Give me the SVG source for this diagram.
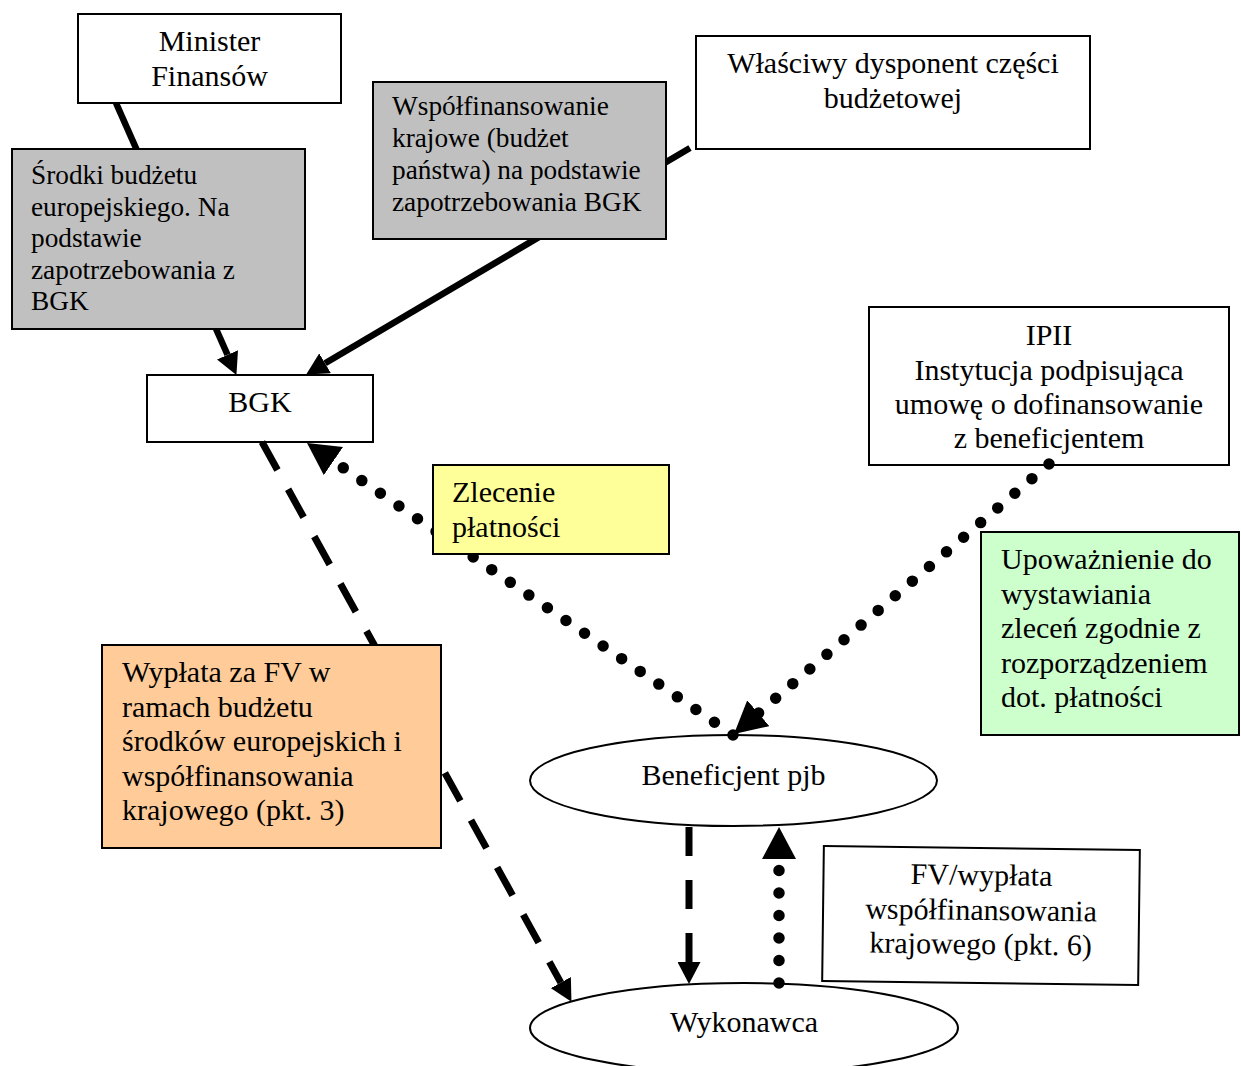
<svg xmlns="http://www.w3.org/2000/svg" width="1241" height="1066" viewBox="0 0 1241 1066">
<style>
.box{fill:#fff;stroke:#000;stroke-width:2}
.gray{fill:#c0c0c0}
.yel{fill:#ffff99}
.grn{fill:#ccffcc}
.org{fill:#ffcc99}
.t{font-family:"Liberation Serif","Times New Roman",serif;font-size:30px;fill:#000}
.s{font-size:27.3px}
.mid{text-anchor:middle}
.ln{stroke:#000;fill:none}
.solid{stroke-width:6.5}
.dash{stroke-width:7;stroke-dasharray:32 22}
.dot{stroke-width:11.5;stroke-dasharray:0 22.5;stroke-linecap:round}
</style>
<defs>
<marker id="aS" markerUnits="userSpaceOnUse" markerWidth="22" markerHeight="23" viewBox="0 0 22 23" refX="0" refY="11.5" orient="auto"><path d="M0,0 L22,11.5 L0,23 z" fill="#000"/></marker>
<marker id="aD" markerUnits="userSpaceOnUse" markerWidth="32" markerHeight="34" viewBox="0 0 32 34" refX="0" refY="17" orient="auto"><path d="M0,0 L32,17 L0,34 z" fill="#000"/></marker>
</defs>
<rect width="1241" height="1066" fill="#fff"/>

<g id="minister">
<rect class="box" x="78" y="14" width="263" height="89"/>
<text class="t mid" x="209.5" y="51">Minister</text>
<text class="t mid" x="209.5" y="86">Finansów</text>
</g>
<g id="dysponent">
<rect class="box" x="696" y="36" width="394" height="113"/>
<text class="t mid" x="893" y="73">Właściwy dysponent części</text>
<text class="t mid" x="893" y="108">budżetowej</text>
</g>
<g id="bgk">
<rect class="box" x="147" y="375" width="226" height="67"/>
<text class="t mid" x="260" y="412">BGK</text>
</g>
<g id="ipii">
<rect class="box" x="869" y="307" width="360" height="158"/>
<text class="t mid" x="1049" y="345">IPII</text>
<text class="t mid" x="1049" y="380">Instytucja podpisująca</text>
<text class="t mid" x="1049" y="414">umowę o dofinansowanie</text>
<text class="t mid" x="1049" y="448">z beneficjentem</text>
</g>
<g id="beneficjent">
<ellipse class="box" cx="733.5" cy="780.5" rx="203.5" ry="45.5"/>
<text class="t mid" x="733.5" y="785">Beneficjent pjb</text>
</g>
<g id="wykonawca">
<ellipse class="box" cx="744" cy="1028" rx="214" ry="45"/>
<text class="t mid" x="744" y="1032">Wykonawca</text>
</g>

<g id="connectors">
<line class="ln solid" x1="116" y1="103" x2="227.5" y2="354.8" marker-end="url(#aS)"/>
<line class="ln solid" x1="690" y1="148" x2="325.1" y2="363.3" marker-end="url(#aS)"/>
<line class="ln dash" x1="262" y1="442" x2="560.8" y2="982.6" marker-end="url(#aS)"/>
<line class="ln dot" x1="733" y1="735" x2="333.4" y2="461.1" marker-end="url(#aD)"/>
<line class="ln dot" x1="1049" y1="464" x2="758.3" y2="713.2" marker-end="url(#aD)"/>
<line class="ln dash" style="stroke-dasharray:29 24" x1="689" y1="827" x2="689" y2="962" marker-end="url(#aS)"/>
<line class="ln dot" x1="779" y1="983" x2="779" y2="859" marker-end="url(#aD)"/>
</g>

<g id="srodki">
<rect class="box gray" x="12" y="149" width="293" height="180"/>
<text class="t s" x="31" y="184">Środki budżetu</text>
<text class="t s" x="31" y="215.5">europejskiego. Na</text>
<text class="t s" x="31" y="247">podstawie</text>
<text class="t s" x="31" y="278.5">zapotrzebowania z</text>
<text class="t s" x="31" y="310">BGK</text>
</g>
<g id="wspolfinansowanie">
<rect class="box gray" x="373" y="82" width="293" height="157"/>
<text class="t s" x="392" y="115">Współfinansowanie</text>
<text class="t s" x="392" y="147">krajowe (budżet</text>
<text class="t s" x="392" y="179">państwa) na podstawie</text>
<text class="t s" x="392" y="211">zapotrzebowania BGK</text>
</g>
<g id="zlecenie">
<rect class="box yel" x="433" y="465" width="236" height="89"/>
<text class="t" x="452" y="502">Zlecenie</text>
<text class="t" x="452" y="537">płatności</text>
</g>
<g id="upowaznienie">
<rect class="box grn" x="981" y="532" width="258" height="203"/>
<text class="t" x="1001" y="569">Upoważnienie do</text>
<text class="t" x="1001" y="603.5">wystawiania</text>
<text class="t" x="1001" y="638">zleceń zgodnie z</text>
<text class="t" x="1001" y="672.5">rozporządzeniem</text>
<text class="t" x="1001" y="707">dot. płatności</text>
</g>
<g id="wyplata">
<rect class="box org" x="102" y="645" width="339" height="203"/>
<text class="t" x="122" y="682">Wypłata za FV w</text>
<text class="t" x="122" y="716.5">ramach budżetu</text>
<text class="t" x="122" y="751">środków europejskich i</text>
<text class="t" x="122" y="785.5">współfinansowania</text>
<text class="t" x="122" y="820">krajowego (pkt. 3)</text>
</g>
<g id="fv" transform="rotate(0.72 981 916)">
<rect class="box" x="823" y="848" width="316" height="135"/>
<text class="t mid" x="981" y="885">FV/wypłata</text>
<text class="t mid" x="981" y="920">współfinansowania</text>
<text class="t mid" x="981" y="954">krajowego (pkt. 6)</text>
</g>
</svg>
